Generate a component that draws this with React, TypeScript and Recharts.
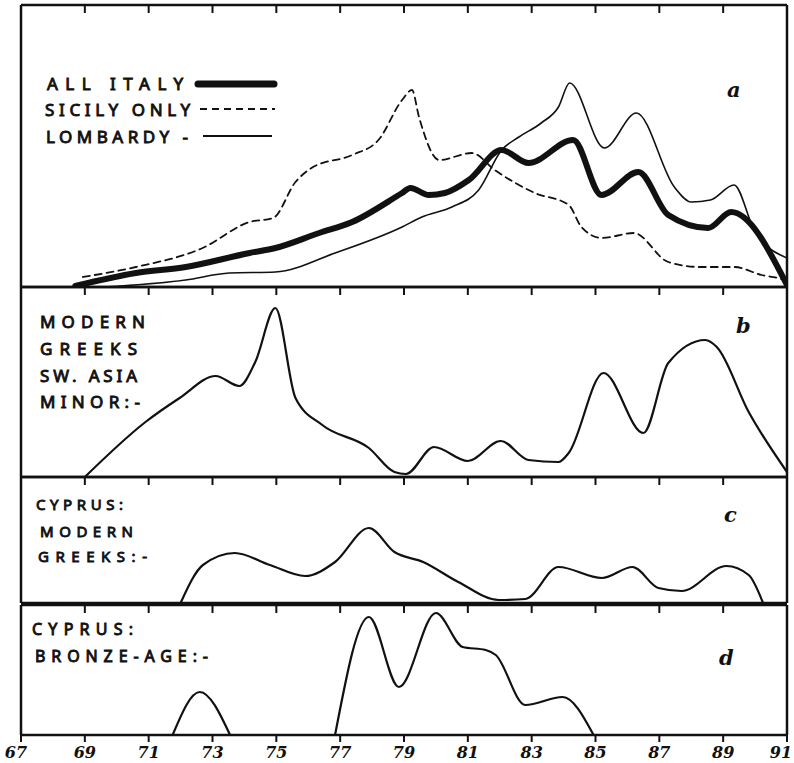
import { LineChart, Line, XAxis, YAxis, ReferenceLine } from "recharts";

// cephalic index axis
const xTicks = [67, 69, 71, 73, 75, 77, 79, 81, 83, 85, 87, 89, 91];
const innerTicks = [69, 71, 73, 75, 77, 79, 81, 83, 85, 87, 89];

// panel a (frequency, arbitrary units)
const allItaly = [
  [68.7, 1], [70.6, 14], [72.16, 20], [74.16, 34], [74.97, 39], [76.34, 54],
  [77.375, 65], [78.94, 94], [79.2, 99], [79.78, 92], [80.28, 94], [81.03, 107],
  [82.06, 137], [82.9, 124], [84.3, 147], [85.19, 92], [86.34, 115], [87.28, 72],
  [88.53, 59], [89.25, 75], [91, 2],
];
const sicilyOnly = [
  [68.94, 10], [70.6, 20], [72.69, 39], [74.16, 65], [74.9, 69], [75.6, 105],
  [76.1, 119], [77.375, 132], [78.2, 147], [78.94, 187], [79.25, 197], [79.47, 170],
  [80.1, 127], [81.125, 134], [81.84, 117], [83.1, 94], [84.16, 82], [84.56, 60],
  [85.19, 49], [86.2, 54], [87.28, 25], [88.3, 20], [89.34, 20], [90.2, 12],
  [90.9, 7], [91, 0],
];
const lombardy = [
  [69.6, 0], [72.16, 7], [73.53, 14], [74.97, 15], [76.84, 34], [78.94, 60],
  [79.56, 70], [80.5, 80], [81.34, 97], [82.06, 137], [82.6, 150], [83.3, 164],
  [83.84, 180], [84.19, 204], [85.28, 139], [86.28, 174], [87.47, 100], [88, 85],
  [88.6, 87], [89.34, 102], [89.97, 57], [91, 29],
];

// panel b
const greeksAsiaMinor = [
  [69.0, 0], [70.9, 55], [71.97, 79], [73.1, 101], [73.84, 91], [74.34, 115],
  [74.97, 169], [75.6, 79], [76.44, 52], [77.9, 29], [78.7, 5], [79.06, 3],
  [79.94, 30], [81, 16], [82.03, 36], [82.9, 17], [83.84, 15], [84.16, 24],
  [85.25, 104], [86.5, 44], [87.28, 114], [88.44, 137], [88.8, 130], [89.8, 65],
  [91, 5],
];

// panel c
const cyprusModern = [
  [72.0, 0], [72.7, 38], [73.7, 50], [74.8, 38], [75.9, 27], [76.84, 41],
  [77.9, 75], [78.7, 51], [79.6, 41], [80.7, 21], [81.97, 3], [82.8, 4],
  [83.84, 36], [85.2, 25], [86.16, 36], [86.97, 15], [87.7, 12], [89.1, 37],
  [89.8, 28], [90.25, 0],
];

// panel d
const bronzeAgeSmall = [[71.75, 0], [72.6, 43], [73.55, 0]];
const bronzeAgeMain = [
  [76.84, 0], [77.9, 118], [78.84, 48], [80.0, 122], [80.84, 88], [81.56, 85],
  [81.875, 80], [82.8, 30], [83.97, 38], [84.94, 0],
];

const ink = "#111";
const toPoints = (arr: number[][]) => arr.map(([x, y]) => ({ x, y }));

// bottom tick labels, ends nudged in like the drawing
function IndexTick(props: any) {
  const { x, y, payload } = props;
  const v = payload.value;
  const dx = v === 67 ? -5 : v === 91 ? -6 : 0;
  return (
    <text
      x={x + dx}
      y={y + 23}
      textAnchor="middle"
      fill={ink}
      fontFamily="DejaVu Serif"
      fontStyle="italic"
      fontWeight="bold"
      fontSize={16}
    >
      {v}
    </text>
  );
}

function Panel({
  top,
  plotHeight,
  maxY,
  last,
  children,
}: {
  top: number;
  plotHeight: number;
  maxY: number;
  last?: boolean;
  children: React.ReactNode;
}) {
  const axisH = last ? 28 : 1;
  const bottom = last ? 0 : 4;
  // tick marks hang down from each panel's top edge (maxY equals the plot height in px)
  const topTicks = innerTicks.map((t) => (
    <ReferenceLine
      key={`t${t}`}
      xAxisId="bottom"
      yAxisId="left"
      segment={[{ x: t, y: maxY }, { x: t, y: maxY - 8 }]}
      stroke={ink}
      strokeWidth={2}
      ifOverflow="visible"
    />
  ));
  const axisTicks = last
    ? xTicks.map((t) => (
        <ReferenceLine
          key={`b${t}`}
          xAxisId="bottom"
          yAxisId="left"
          segment={[{ x: t, y: 0 }, { x: t, y: -7 }]}
          stroke={ink}
          strokeWidth={2}
          ifOverflow="visible"
        />
      ))
    : [];
  return (
    <div style={{ position: "absolute", left: 0, top }}>
      <LineChart
        width={794}
        height={5 + plotHeight + axisH + bottom}
        margin={{ top: 4, right: 6, bottom, left: 20 }}
      >
        <XAxis
          xAxisId="top"
          orientation="top"
          type="number"
          dataKey="x"
          domain={[67, 91]}
          allowDataOverflow
          height={1}
          tick={false}
          tickLine={false}
          axisLine={{ stroke: ink, strokeWidth: 2.5 }}
        />
        <XAxis
          xAxisId="bottom"
          orientation="bottom"
          type="number"
          dataKey="x"
          domain={[67, 91]}
          ticks={xTicks}
          interval={0}
          allowDataOverflow
          height={axisH}
          tick={last ? <IndexTick /> : false}
          tickSize={0}
          tickMargin={0}
          tickLine={false}
          axisLine={{ stroke: ink, strokeWidth: 2.5 }}
        />
        <YAxis
          yAxisId="left"
          type="number"
          domain={[0, maxY]}
          allowDataOverflow
          width={1}
          tick={false}
          tickLine={false}
          axisLine={{ stroke: ink, strokeWidth: 2.5 }}
        />
        <YAxis
          yAxisId="right"
          orientation="right"
          type="number"
          domain={[0, 1]}
          width={1}
          tick={false}
          tickLine={false}
          axisLine={{ stroke: ink, strokeWidth: 2.5 }}
        />
        {topTicks}
        {axisTicks}
        {children}
      </LineChart>
    </div>
  );
}

const curve = (
  name: string,
  arr: number[][],
  width = 2,
  dash?: string,
  xAxisId = "bottom"
) => (
  <Line
    key={name}
    name={name}
    xAxisId={xAxisId}
    yAxisId="left"
    data={toPoints(arr)}
    dataKey="y"
    type="monotone"
    stroke={ink}
    strokeWidth={width}
    strokeDasharray={dash}
    strokeLinecap="round"
    strokeLinejoin="round"
    dot={false}
    activeDot={false}
    isAnimationActive={false}
  />
);

const letter = {
  fontFamily: "Noto Sans, DejaVu Sans",
  fontSize: 16,
  fill: ink,
  stroke: ink,
  strokeWidth: 0.9,
};
const panelMark = {
  fontFamily: "DejaVu Serif",
  fontStyle: "italic" as const,
  fontWeight: "bold" as const,
  fontSize: 21,
  fill: ink,
};

export default function App() {
  return (
    <div
      style={{
        position: "absolute",
        left: 0,
        top: 0,
        width: 794,
        height: 763,
        background: "#fff",
        overflow: "hidden",
      }}
    >
      <Panel top={0} plotHeight={282} maxY={282}>
        {curve("Lombardy", lombardy, 1.6, undefined, "top")}
        {curve("Sicily only", sicilyOnly, 1.8, "7 5")}
        {curve("All Italy", allItaly, 6)}
      </Panel>
      <Panel top={282} plotHeight={190} maxY={190}>
        {curve("Modern Greeks SW. Asia Minor", greeksAsiaMinor, 2.2)}
      </Panel>
      <Panel top={472} plotHeight={126} maxY={126}>
        {curve("Cyprus modern Greeks", cyprusModern, 2.2)}
      </Panel>
      <Panel top={600} plotHeight={130} maxY={130} last>
        {curve("Cyprus Bronze Age (a)", bronzeAgeSmall, 2.2)}
        {curve("Cyprus Bronze Age (b)", bronzeAgeMain, 2.2)}
      </Panel>

      <svg
        width={794}
        height={763}
        style={{ position: "absolute", left: 0, top: 0, pointerEvents: "none" }}
      >
        {/* panel a legend */}
        <text x={47} y={90} {...letter} fontSize={17} textLength={136} lengthAdjust="spacing">ALL ITALY</text>
        <text x={45} y={116} {...letter} fontSize={17} textLength={145} lengthAdjust="spacing">SICILY ONLY</text>
        <text x={46} y={143} {...letter} fontSize={17} textLength={142} lengthAdjust="spacing">LOMBARDY -</text>
        <line x1={198} y1={84} x2={274} y2={84} stroke={ink} strokeWidth={7} strokeLinecap="round" />
        <line x1={200} y1={109} x2={275} y2={109} stroke={ink} strokeWidth={1.8} strokeDasharray="7 5" />
        <line x1={203} y1={136} x2={272} y2={136} stroke={ink} strokeWidth={1.8} />
        <text x={727} y={97} {...panelMark}>a</text>

        {/* panel b */}
        <text x={40} y={328} {...letter} fontSize={17} textLength={105} lengthAdjust="spacing">MODERN</text>
        <text x={40} y={355} {...letter} fontSize={17} textLength={97} lengthAdjust="spacing">GREEKS</text>
        <text x={40} y={382} {...letter} fontSize={17} textLength={97} lengthAdjust="spacing">SW. ASIA</text>
        <text x={40} y={408} {...letter} fontSize={17} textLength={100} lengthAdjust="spacing">MINOR:-</text>
        <text x={736} y={333} {...panelMark}>b</text>

        {/* panel c */}
        <text x={36} y={510} {...letter} fontSize={15} textLength={87} lengthAdjust="spacing">CYPRUS:</text>
        <text x={40} y={537} {...letter} fontSize={15} textLength={93} lengthAdjust="spacing">MODERN</text>
        <text x={38} y={562} {...letter} fontSize={15} textLength={109} lengthAdjust="spacing">GREEKS:-</text>
        <text x={724} y={522} {...panelMark}>c</text>

        {/* panel d */}
        <text x={32} y={635} {...letter} fontSize={16} textLength={101} lengthAdjust="spacing">CYPRUS:</text>
        <text x={35} y={662} {...letter} fontSize={16} textLength={173} lengthAdjust="spacing">BRONZE-AGE:-</text>
        <text x={719} y={665} {...panelMark}>d</text>
      </svg>
    </div>
  );
}
